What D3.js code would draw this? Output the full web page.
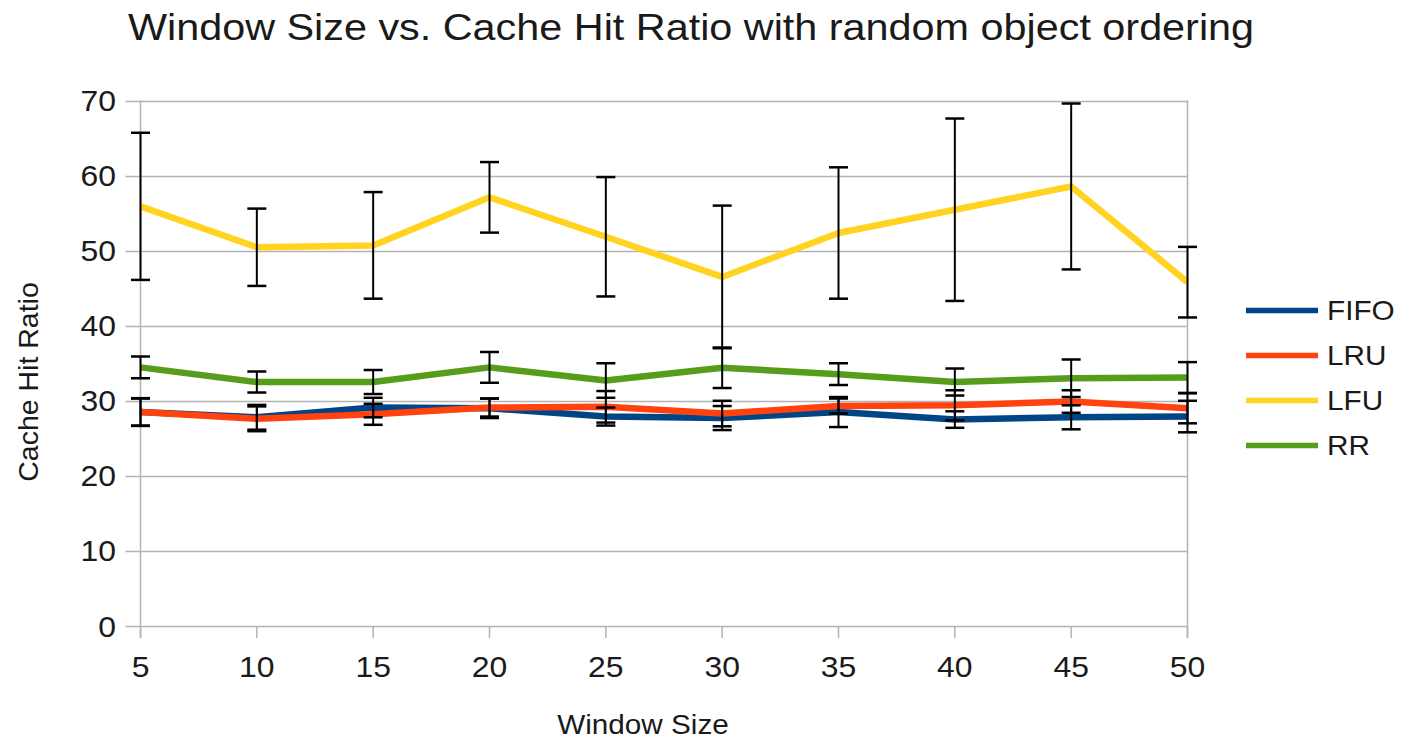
<!DOCTYPE html>
<html>
<head>
<meta charset="utf-8">
<script src="https://cdn.jsdelivr.net/npm/d3@7"></script>
<style>
  html, body { margin: 0; padding: 0; background: #fff; }
  svg { display: block; font-family: "Liberation Sans", Arial, sans-serif; }
</style>
</head>
<body>
<svg id="chart" width="1403" height="740"></svg>
<script>
// Window sizes (x categories)
const windowSizes = [5, 10, 15, 20, 25, 30, 35, 40, 45, 50];

// Mean cache hit ratio per policy
const fifoMean = [28.5, 27.8, 29.1, 29.0, 27.9, 27.7, 28.5, 27.5, 27.8, 27.9];
const lruMean  = [28.5, 27.6, 28.2, 29.1, 29.2, 28.3, 29.3, 29.4, 29.9, 29.0];
const lfuMean  = [55.9, 50.45, 50.7, 57.1, 51.85, 46.5, 52.35, 55.45, 58.55, 45.8];
const rrMean   = [34.45, 32.5, 32.5, 34.45, 32.7, 34.4, 33.55, 32.5, 33.0, 33.1];

// Standard deviation (symmetric error bars)
const fifoErr = [1.8, 1.65, 1.3, 1.3, 1.2, 1.6, 2.0, 1.1, 1.6, 2.1];
const lruErr  = [1.85, 1.65, 1.4, 1.2, 2.1, 1.7, 1.0, 2.0, 1.5, 2.0];
const lfuErr  = [9.8, 5.15, 7.1, 4.7, 7.95, 9.5, 8.75, 12.15, 11.05, 4.7];
const rrErr   = [1.45, 1.4, 1.6, 2.05, 2.3, 2.7, 1.45, 1.8, 2.5, 2.05];

const seriesNames = ["FIFO", "LRU", "LFU", "RR"];
const seriesColors = ["#004586", "#ff420e", "#ffd320", "#579d1c"];
const yTicks = [0, 10, 20, 30, 40, 50, 60, 70];

const titleText = "Window Size vs. Cache Hit Ratio with random object ordering";
const xTitle = "Window Size";
const yTitle = "Cache Hit Ratio";

const series = [
  { name: seriesNames[0], color: seriesColors[0], mean: fifoMean, err: fifoErr },
  { name: seriesNames[1], color: seriesColors[1], mean: lruMean,  err: lruErr },
  { name: seriesNames[2], color: seriesColors[2], mean: lfuMean,  err: lfuErr },
  { name: seriesNames[3], color: seriesColors[3], mean: rrMean,   err: rrErr }
];

const svg = d3.select("#chart");
const plot = { left: 140.5, right: 1187.5, top: 100.5, bottom: 626 };
const textColor = "#1a1a1a";
const gridColor = "#b3b3b3";
const sx = 1.1; // horizontal text stretch

const x = d3.scaleLinear().domain([5, 50]).range([plot.left, plot.right]);
const y = d3.scaleLinear().domain([0, 70]).range([plot.bottom, plot.top]);

// stretched text helper
function label(g, tx, ty, str, size, anchor) {
  return g.append("text")
    .attr("transform", `translate(${tx},${ty}) scale(${sx},1)`)
    .attr("text-anchor", anchor)
    .attr("font-size", size)
    .attr("fill", textColor)
    .text(str);
}

// Title
label(svg, 691, 40, titleText, 37.6, "middle");

// Horizontal gridlines (extend left as ticks)
svg.append("g").selectAll("line").data(yTicks).join("line")
  .attr("x1", plot.left - 15).attr("x2", plot.right)
  .attr("y1", d => Math.round(y(d)) + 0.5).attr("y2", d => Math.round(y(d)) + 0.5)
  .attr("stroke", gridColor).attr("stroke-width", 1.5);

// Left axis line and right border
svg.append("line")
  .attr("x1", plot.left).attr("x2", plot.left)
  .attr("y1", plot.top).attr("y2", plot.bottom + 12)
  .attr("stroke", gridColor).attr("stroke-width", 1.5);
svg.append("line")
  .attr("x1", plot.right).attr("x2", plot.right)
  .attr("y1", plot.top).attr("y2", plot.bottom + 12)
  .attr("stroke", gridColor).attr("stroke-width", 1.5);

// X tick marks
svg.append("g").selectAll("line").data(windowSizes).join("line")
  .attr("x1", d => x(d)).attr("x2", d => x(d))
  .attr("y1", plot.bottom).attr("y2", plot.bottom + 12)
  .attr("stroke", gridColor).attr("stroke-width", 1.5);

// Y tick labels
const yl = svg.append("g");
yTicks.forEach(t => label(yl, 116, y(t) + 10.5, String(t), 29, "end"));

// X tick labels
const xl = svg.append("g");
windowSizes.forEach(v => label(xl, x(v), 677, String(v), 29, "middle"));

// Axis titles
label(svg, 643, 734, xTitle, 27, "middle");
svg.append("text")
  .attr("transform", `translate(38,382) rotate(-90)`)
  .attr("text-anchor", "middle")
  .attr("font-size", 28.5)
  .attr("fill", textColor)
  .text(yTitle);

// Series lines
const line = d3.line().x((d, i) => x(windowSizes[i])).y(d => y(d));
const linesG = svg.append("g");
series.forEach(s => {
  linesG.append("path")
    .datum(s.mean)
    .attr("d", line)
    .attr("fill", "none")
    .attr("stroke", s.color)
    .attr("stroke-width", 6.5)
    .attr("stroke-linejoin", "round");
});

// Error bars
const errG = svg.append("g").attr("stroke", "#000").attr("stroke-width", 2);
const cap = 9.5;
series.forEach(s => {
  s.mean.forEach((m, i) => {
    const cx = x(windowSizes[i]);
    const hi = y(m + s.err[i]);
    const lo = y(m - s.err[i]);
    errG.append("line").attr("x1", cx).attr("x2", cx).attr("y1", hi).attr("y2", lo);
    errG.append("line").attr("x1", cx - cap).attr("x2", cx + cap).attr("y1", hi).attr("y2", hi).attr("stroke-width", 2.5);
    errG.append("line").attr("x1", cx - cap).attr("x2", cx + cap).attr("y1", lo).attr("y2", lo).attr("stroke-width", 2.5);
  });
});

// Legend
const legend = svg.append("g");
series.forEach((s, i) => {
  const ly = 310.5 + i * 45;
  legend.append("line")
    .attr("x1", 1246).attr("x2", 1318)
    .attr("y1", ly).attr("y2", ly)
    .attr("stroke", s.color).attr("stroke-width", 5.5);
  label(legend, 1327, ly + 9.5, s.name, 27, "start");
});
</script>
</body>
</html>
